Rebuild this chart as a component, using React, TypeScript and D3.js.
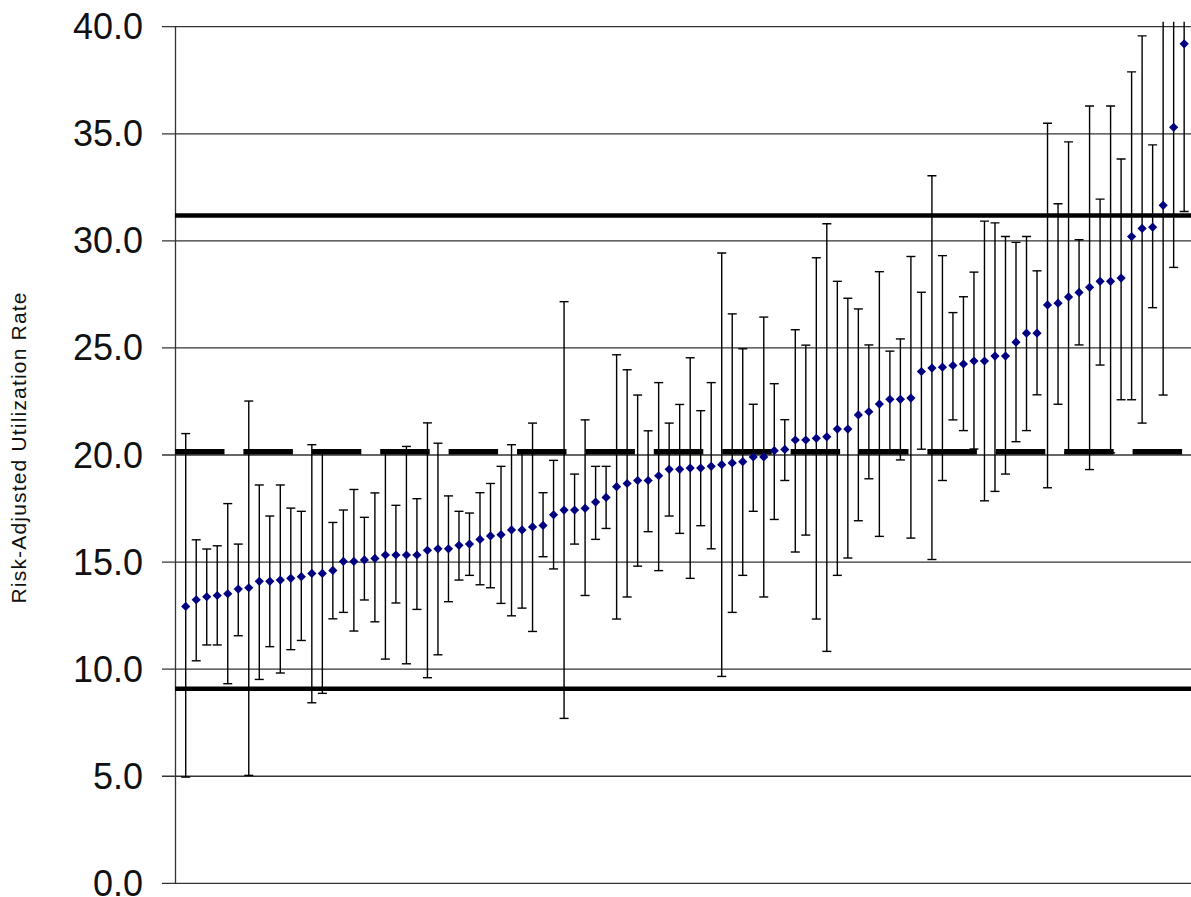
import * as d3 from 'd3'

// one entry per provider, already sorted by rate
const rates = [
  12.93, 13.24, 13.38, 13.44, 13.52, 13.74, 13.80, 14.10, 14.10, 14.16,
  14.24, 14.32, 14.47, 14.47, 14.61, 15.03, 15.03, 15.10, 15.17, 15.33,
  15.33, 15.33, 15.33, 15.55, 15.62, 15.62, 15.78, 15.84, 16.06, 16.22,
  16.28, 16.50, 16.50, 16.64, 16.71, 17.21, 17.43, 17.43, 17.51, 17.80,
  18.02, 18.52, 18.67, 18.81, 18.81, 19.03, 19.33, 19.33, 19.39, 19.39,
  19.47, 19.55, 19.63, 19.69, 19.91, 19.91, 20.20, 20.26, 20.70, 20.70,
  20.78, 20.85, 21.21, 21.21, 21.87, 22.02, 22.38, 22.60, 22.60, 22.66,
  23.90, 24.06, 24.10, 24.18, 24.25, 24.39, 24.39, 24.62, 24.62, 25.27,
  25.69, 25.69, 27.01, 27.09, 27.38, 27.59, 27.83, 28.11, 28.11, 28.26,
  30.20, 30.58, 30.64, 31.66, 35.30, 39.20,
]

const lowerCI = [
  4.96, 10.39, 11.13, 11.13, 9.32, 11.56, 5.04, 9.52, 11.05, 9.82,
  10.91, 11.34, 8.43, 8.87, 12.35, 12.65, 11.78, 13.23, 12.21, 10.47,
  13.09, 10.25, 12.79, 9.60, 10.67, 13.15, 14.16, 14.38, 13.94, 13.80,
  13.07, 12.49, 12.85, 11.76, 15.25, 14.68, 7.70, 15.84, 13.44, 16.06,
  16.57, 12.34, 13.37, 14.81, 16.42, 14.60, 17.15, 16.34, 14.24, 16.70,
  15.62, 9.66, 12.65, 14.38, 17.37, 13.37, 16.99, 18.81, 15.47, 16.26,
  12.34, 10.83, 14.38, 15.19, 16.93, 18.89, 16.20, 20.10, 19.77, 16.12,
  20.27, 15.12, 18.81, 21.64, 21.14, 20.28, 17.86, 18.30, 19.11, 20.62,
  21.14, 22.81, 18.47, 22.37, 20.10, 25.14, 19.32, 24.20, 20.10, 22.58,
  22.58, 21.49, 26.88, 22.80, 28.76, 31.37,
]

const upperCI = [
  21.00, 16.04, 15.61, 15.76, 17.73, 15.84, 22.52, 18.60, 17.15, 18.60,
  17.52, 17.37, 20.48, 20.20, 16.85, 17.43, 18.39, 17.09, 18.23, 20.20,
  17.65, 20.40, 17.96, 21.50, 20.55, 18.09, 17.37, 17.29, 18.24, 18.67,
  19.47, 20.48, 20.20, 21.49, 18.24, 19.75, 27.16, 19.11, 21.64, 19.47,
  19.47, 24.68, 23.98, 22.80, 21.13, 23.38, 21.49, 22.36, 24.54, 22.07,
  23.38, 29.43, 26.59, 24.96, 22.37, 26.44, 23.33, 21.65, 25.85, 25.13,
  29.21, 30.80, 28.11, 27.32, 26.82, 25.14, 28.56, 24.85, 25.42, 29.27,
  27.60, 33.04, 29.31, 26.65, 27.39, 28.54, 30.92, 30.84, 30.20, 29.93,
  30.20, 28.60, 35.49, 31.73, 34.62, 30.05, 36.30, 31.95, 36.30, 33.82,
  37.89, 39.57, 34.48, 40.60, 42.00, 47.00,
]

const yTicks = [0, 5, 10, 15, 20, 25, 30, 35, 40]

const upperLimit = 31.18
const centerLine = 20.15
const lowerLimit = 9.09

function App() {
  const width = 1191
  const height = 897
  const left = 175.2
  const step = 10.51
  const n = rates.length

  const x = d3.scaleLinear().domain([0, n + 1]).range([left, left + step * (n + 1)])
  const y = d3.scaleLinear().domain([0, 40]).range([883.3, 26.7])
  const fmt = d3.format('.1f')
  const cap = 4.5
  const m = 4.6

  return (
    <svg width={width} height={height} style={{ position: 'absolute', left: 0, top: 0 }}>
      <defs>
        <clipPath id="plot">
          <rect x={0} y={21.7} width={width} height={height} />
        </clipPath>
      </defs>
      <rect width={width} height={height} fill="white" />

      {yTicks.map(t => (
        <g key={t}>
          <line x1={162} x2={width} y1={y(t)} y2={y(t)} stroke="#333" strokeWidth={1.3} />
          <text
            x={143}
            y={y(t)}
            textAnchor="end"
            dominantBaseline="central"
            fontFamily="Arial, 'Liberation Sans', sans-serif"
            fontSize={36}
            fill="#111"
          >
            {fmt(t)}
          </text>
        </g>
      ))}
      <line x1={175.5} x2={175.5} y1={y(40)} y2={y(0)} stroke="#333" strokeWidth={1.3} />

      {/* error bars sit under the control lines */}
      <g clipPath="url(#plot)" stroke="black" strokeWidth={1.4}>
        {rates.map((r, i) => {
          const cx = x(i + 1)
          return (
            <g key={i}>
              <line x1={cx} x2={cx} y1={y(upperCI[i])} y2={y(lowerCI[i])} />
              <line x1={cx - cap} x2={cx + cap} y1={y(upperCI[i])} y2={y(upperCI[i])} />
              <line x1={cx - cap} x2={cx + cap} y1={y(lowerCI[i])} y2={y(lowerCI[i])} />
            </g>
          )
        })}
      </g>

      <line x1={175} x2={width} y1={y(upperLimit)} y2={y(upperLimit)} stroke="black" strokeWidth={4.5} />
      <line x1={175} x2={width} y1={y(lowerLimit)} y2={y(lowerLimit)} stroke="black" strokeWidth={4.5} />
      <line
        x1={175}
        x2={width}
        y1={y(centerLine)}
        y2={y(centerLine)}
        stroke="black"
        strokeWidth={5.5}
        strokeDasharray="49.5 18.9"
      />

      {rates.map((r, i) => (
        <path
          key={i}
          transform={`translate(${x(i + 1)},${y(r)})`}
          d={`M0,${-m}L${m},0L0,${m}L${-m},0Z`}
          fill="#000080"
        />
      ))}

      <text
        transform="translate(26,448) rotate(-90)"
        textAnchor="middle"
        fontFamily="Arial, 'Liberation Sans', sans-serif"
        fontSize={21}
        textLength={311}
        fill="#111"
      >
        Risk-Adjusted Utilization Rate
      </text>
    </svg>
  )
}

export default App
